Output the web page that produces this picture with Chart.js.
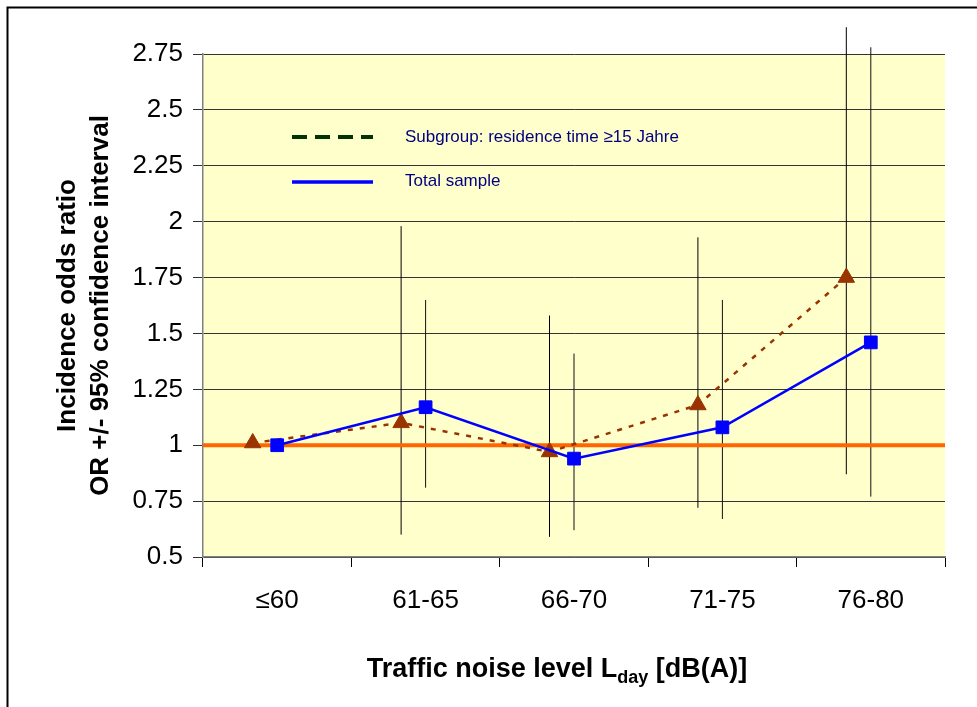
<!DOCTYPE html>
<html><head><meta charset="utf-8">
<script src="https://cdn.jsdelivr.net/npm/chart.js@4.4.1/dist/chart.umd.min.js"></script>
<style>html,body{margin:0;padding:0;background:#fff;} canvas{display:block;}</style>
</head><body>
<canvas id="c" width="977" height="707"></canvas>
<script>
// ---- data ----
const categories = ['≤60', '61-65', '66-70', '71-75', '76-80'];
const subgroupOR   = [1.01, 1.10, 0.97, 1.18, 1.75];
const subgroupLow  = [null, 0.60, 0.59, 0.72, 0.87];
const subgroupHigh = [null, 1.98, 1.58, 1.93, 2.87];
const totalOR   = [1.00, 1.17, 0.94, 1.08, 1.46];
const totalLow  = [null, 0.81, 0.62, 0.67, 0.77];
const totalHigh = [null, 1.65, 1.41, 1.65, 2.78];
const yTickValues = [0.5, 0.75, 1, 1.25, 1.5, 1.75, 2, 2.25, 2.5, 2.75];
const yTickLabels = ['0.5', '0.75', '1', '1.25', '1.5', '1.75', '2', '2.25', '2.5', '2.75'];
const referenceOR = 1;
const seriesNames = ['Subgroup: residence time \u226515 Jahre', 'Total sample'];
const yTitle = ['Incidence odds ratio', 'OR +/- 95% confidence interval'];
const xTitleParts = ['Traffic noise level L', 'day', ' [dB(A)]'];

// ---- helpers ----
const FONT = "'Liberation Sans', Arial, Helvetica, sans-serif";
const SUB_SHIFT = -0.165;
const X_MIN = -0.5, X_MAX = categories.length - 0.5;
const pts = (vals, shift) => vals.map((v, i) => ({x: i + shift, y: v}));
const bars = (lo, hi, shift) => {
  const out = [];
  lo.forEach((l, i) => {
    if (l == null) return;
    out.push({x: i + shift, y: l}, {x: i + shift, y: hi[i]}, {x: i + shift, y: null});
  });
  return out;
};

const bgPlugin = {
  id: 'bg',
  beforeDraw(chart) {
    const {ctx, chartArea: a} = chart;
    ctx.save();
    ctx.fillStyle = '#fff';
    ctx.fillRect(0, 0, chart.width, chart.height);
    ctx.strokeStyle = '#000';
    ctx.lineWidth = 2;
    ctx.strokeRect(7.5, 7.5, chart.width + 20, chart.height + 20);
    ctx.fillStyle = '#FFFFCC';
    ctx.fillRect(a.left, a.top, a.right - a.left, a.bottom - a.top);
    ctx.restore();
  }
};

const annotPlugin = {
  id: 'annot',
  afterDraw(chart) {
    const {ctx, chartArea: a} = chart;
    ctx.save();
    // legend
    const lx0 = a.left + 89, lx1 = a.left + 170, tx = a.left + 202;
    const ly = [a.top + 83, a.top + 128];
    ctx.lineCap = 'butt';
    ctx.strokeStyle = '#003300';
    ctx.lineWidth = 4;
    ctx.setLineDash([15, 8]);
    ctx.beginPath(); ctx.moveTo(lx0, ly[0]); ctx.lineTo(lx1, ly[0]); ctx.stroke();
    ctx.setLineDash([]);
    ctx.strokeStyle = '#0000FF';
    ctx.lineWidth = 3.5;
    ctx.beginPath(); ctx.moveTo(lx0, ly[1]); ctx.lineTo(lx1, ly[1]); ctx.stroke();
    ctx.fillStyle = '#000080';
    ctx.font = '17px ' + FONT;
    ctx.textBaseline = 'middle';
    ctx.textAlign = 'left';
    ctx.fillText(seriesNames[0], tx, ly[0]);
    ctx.fillText(seriesNames[1], tx, ly[1] - 1);

    // x axis title with subscript
    const big = 'bold 27px ' + FONT, small = 'bold 18px ' + FONT;
    ctx.font = big; const w0 = ctx.measureText(xTitleParts[0]).width;
    ctx.font = small; const w1 = ctx.measureText(xTitleParts[1]).width;
    ctx.font = big; const w2 = ctx.measureText(xTitleParts[2]).width;
    const total = w0 + w1 + w2;
    const cx = 557, base = 677;
    let x = cx - total / 2;
    ctx.fillStyle = '#000';
    ctx.textBaseline = 'alphabetic';
    ctx.font = big; ctx.fillText(xTitleParts[0], x, base); x += w0;
    ctx.font = small; ctx.fillText(xTitleParts[1], x, base + 6); x += w1;
    ctx.font = big; ctx.fillText(xTitleParts[2], x, base);
    ctx.restore();
  }
};

new Chart(document.getElementById('c'), {
  type: 'line',
  data: {
    labels: categories,
    datasets: [
      {
        label: seriesNames[1], data: pts(totalOR, 0), xAxisID: 'x2', order: 1,
        borderColor: '#0000FF', borderWidth: 2.5, tension: 0,
        pointStyle: 'rect', pointRadius: 9, pointBackgroundColor: '#0000FF',
        pointBorderColor: '#0000FF', pointBorderWidth: 1
      },
      {
        label: seriesNames[0], data: pts(subgroupOR, SUB_SHIFT), xAxisID: 'x2', order: 2,
        borderColor: '#993300', borderWidth: 2.5, borderDash: [5, 7], tension: 0,
        pointStyle: 'triangle', pointRadius: 9.5, pointBackgroundColor: '#993300',
        pointBorderColor: '#993300', pointBorderWidth: 1
      },
      {
        label: 'ref', data: [{x: X_MIN, y: referenceOR}, {x: X_MAX, y: referenceOR}],
        xAxisID: 'x2', order: 3, borderColor: '#FF6600', borderWidth: 4, pointRadius: 0
      },
      {
        label: 'ci-sub', data: bars(subgroupLow, subgroupHigh, SUB_SHIFT), xAxisID: 'x2', order: 4,
        borderColor: '#000', borderWidth: 1, pointRadius: 0, spanGaps: false, clip: false
      },
      {
        label: 'ci-tot', data: bars(totalLow, totalHigh, 0), xAxisID: 'x2', order: 5,
        borderColor: '#111', borderWidth: 1, pointRadius: 0, spanGaps: false, clip: false
      }
    ]
  },
  options: {
    responsive: false,
    animation: false,
    devicePixelRatio: 1,
    layout: {padding: {top: 54, right: 32, left: 0, bottom: 0}},
    plugins: {legend: {display: false}, tooltip: {enabled: false}, title: {display: false}},
    scales: {
      x: {
        type: 'category', labels: categories, offset: true, position: 'bottom',
        grid: {offset: true, drawOnChartArea: false, drawTicks: true, tickLength: 10, color: '#000'},
        border: {color: '#808080', width: 1.5},
        ticks: {font: {family: FONT, size: 26}, color: '#000', padding: 18, maxRotation: 0, autoSkip: false},
        afterFit: s => { s.height = 150; }
      },
      x2: {type: 'linear', display: false, min: X_MIN, max: X_MAX},
      y: {
        min: yTickValues[0], max: yTickValues[yTickValues.length - 1],
        afterBuildTicks: s => { s.ticks = yTickValues.map(v => ({value: v})); },
        afterFit: s => { s.width = 203; },
        ticks: {
          callback: v => yTickLabels[yTickValues.indexOf(v)],
          font: {family: FONT, size: 26}, color: '#000', padding: 10
        },
        grid: {color: '#333', lineWidth: 1, tickLength: 10, drawTicks: true},
        border: {color: '#808080', width: 1.5},
        title: {
          display: true, text: yTitle, color: '#000',
          font: {family: FONT, size: 26, weight: 'bold', lineHeight: 1.27},
          padding: {top: 51, bottom: 0}
        }
      }
    }
  },
  plugins: [bgPlugin, annotPlugin]
});
</script>
</body></html>
